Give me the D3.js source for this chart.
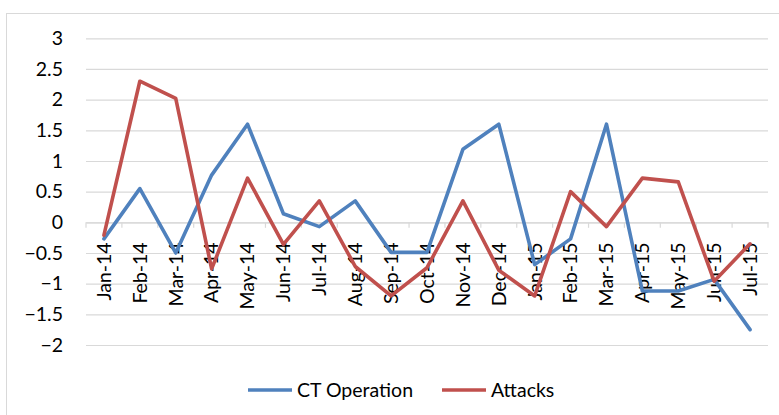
<!DOCTYPE html>
<html>
<head>
<meta charset="utf-8">
<script src="https://cdn.jsdelivr.net/npm/d3@7/dist/d3.min.js"></script>
<style>
  body { margin: 0; background: #fff; }
  svg text { font-family: Lato, "Open Sans", sans-serif; fill: #000; }
</style>
</head>
<body>
<div class="chart"></div>
<script>
// data
var months = ["Jan-14","Feb-14","Mar-14","Apr-14","May-14","Jun-14","Jul-14","Aug-14","Sep-14","Oct-14",
              "Nov-14","Dec-14","Jan-15","Feb-15","Mar-15","Apr-15","May-15","Jun-15","Jul-15"];
var ctOperation = [-0.27, 0.55, -0.5, 0.77, 1.6, 0.14, -0.07, 0.35, -0.49, -0.49,
                   1.19, 1.6, -0.69, -0.27, 1.6, -1.12, -1.12, -0.93, -1.75];
var attacks = [-0.21, 2.3, 2.02, -0.76, 0.72, -0.36, 0.35, -0.72, -1.2, -0.74,
               0.35, -0.78, -1.2, 0.5, -0.07, 0.72, 0.66, -0.96, -0.35];
var yTicks = [3, 2.5, 2, 1.5, 1, 0.5, 0, -0.5, -1, -1.5, -2];

var W = 779, H = 415;
var plot = { left: 86, right: 768, top: 38.3, bottom: 345 };
var fontSize = "19.5px";

var svg = d3.select(".chart").append("svg")
  .attr("width", W).attr("height", H);

// chart area border
svg.append("rect")
  .attr("x", 6.5).attr("y", 13.5)
  .attr("width", 800).attr("height", 420)
  .attr("fill", "none").attr("stroke", "#d9d9d9").attr("stroke-width", 1);

var x = d3.scaleBand().domain(months).range([plot.left, plot.right]);
var y = d3.scaleLinear().domain([-2, 3]).range([plot.bottom, plot.top]);

// gridlines + y labels
var yAxis = svg.append("g")
  .attr("transform", "translate(" + plot.left + ",0)")
  .call(d3.axisLeft(y).tickValues(yTicks).tickSize(-(plot.right - plot.left)).tickPadding(23)
        .tickFormat(function(d) { return d3.format("")(d); }));
yAxis.select(".domain").remove();
yAxis.selectAll(".tick line").attr("stroke", "#d9d9d9").attr("stroke-width", 1.2);
yAxis.selectAll(".tick text").style("font-size", fontSize).attr("fill", "#000");

// category axis at zero
var xAxis = svg.append("g")
  .attr("transform", "translate(0," + y(0) + ")")
  .call(d3.axisBottom(x).tickSize(0));
xAxis.select(".domain").attr("stroke", "#d9d9d9").attr("stroke-width", 1.2);
xAxis.selectAll(".tick text")
  .style("font-size", fontSize)
  .attr("text-anchor", "end")
  .attr("dy", "0.35em")
  .attr("transform", "translate(0,20) rotate(-90)")
  .attr("x", 0).attr("y", 0);
// tick marks between categories
xAxis.selectAll(".sep")
  .data(months.concat(["end"]))
  .enter().append("line")
  .attr("class", "sep")
  .attr("x1", function(d, i) { return plot.left + i * x.step(); })
  .attr("x2", function(d, i) { return plot.left + i * x.step(); })
  .attr("y1", 0).attr("y2", 5.5)
  .attr("stroke", "#d9d9d9").attr("stroke-width", 1.2);

var line = d3.line()
  .x(function(d, i) { return x(months[i]) + x.bandwidth() / 2; })
  .y(function(d) { return y(d); });

var series = [
  { name: "CT Operation", values: ctOperation, color: "#4f81bd" },
  { name: "Attacks", values: attacks, color: "#c0504d" }
];

svg.selectAll(".series")
  .data(series)
  .enter().append("path")
  .attr("class", "series")
  .attr("d", function(d) { return line(d.values); })
  .attr("fill", "none")
  .attr("stroke", function(d) { return d.color; })
  .attr("stroke-width", 3.6)
  .attr("stroke-linejoin", "round")
  .attr("stroke-linecap", "round");

// legend
var legendX = [248, 442];
var leg = svg.selectAll(".legend")
  .data(series)
  .enter().append("g")
  .attr("class", "legend")
  .attr("transform", function(d, i) { return "translate(" + legendX[i] + ",390)"; });
leg.append("line")
  .attr("x1", 0).attr("x2", 44).attr("y1", 0).attr("y2", 0)
  .attr("stroke", function(d) { return d.color; })
  .attr("stroke-width", 3.6);
leg.append("text")
  .attr("x", 49).attr("dy", "0.35em")
  .style("font-size", fontSize)
  .text(function(d) { return d.name; });
</script>
</body>
</html>
